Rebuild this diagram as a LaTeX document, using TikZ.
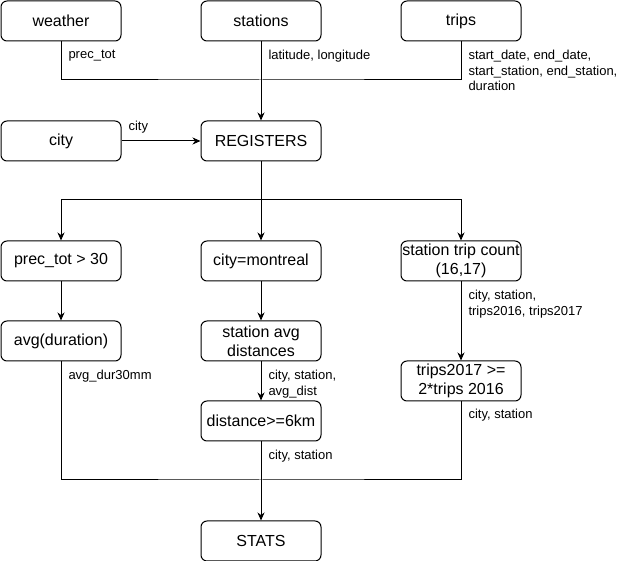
\documentclass[tikz,border=0pt]{standalone}
\usepackage{fontspec}
\setmainfont{Liberation Sans}
\usetikzlibrary{arrows.meta}
\begin{document}
\begin{tikzpicture}[x=1pt,y=-1pt,line width=1pt,
  box/.style={draw,rounded corners=6pt,minimum width=120pt,minimum height=40pt,inner sep=0pt,align=center,font=\fontsize{16}{19}\selectfont},
  lbl/.style={inner sep=0pt,anchor=north west,align=left,font=\fontsize{13}{15.5}\selectfont},
  arr/.style={-{Stealth[length=8pt,width=7pt,inset=2.5pt]}}]
\useasboundingbox (0,0) rectangle (641,561);
\node[box] (weather) at (61,21) {weather};
\node[box] (stations) at (261,21) {stations};
\node[box] (trips) at (461,21) {trips};
\node[box] (city) at (61,141) {city};
\node[box] (reg) at (261,141) {REGISTERS};
\node[box] (prec) at (61,261) {prec\_tot > 30};
\node[box] (mont) at (261,261) {city=montreal};
\node[box] (count) at (461,261) {station trip count\\(16,17)};
\node[box] (avgdur) at (61,341) {avg(duration)};
\node[box] (avgdist) at (261,341) {station avg\\distances};
\node[box] (t17) at (461,381) {trips2017 >=\\2*trips 2016};
\node[box] (dist) at (261,421) {distance>=6km};
\node[box] (stats) at (261,541) {STATS};
\coordinate (m1) at (261,80);
\coordinate (s1) at (261,200);
\coordinate (m2) at (261,480);
\draw (weather.south) |- (m1) -| (trips.south);
\draw[arr] (stations.south) -- (reg.north);
\draw[arr] (city.east) -- (reg.west);
\draw[arr] (reg.south) -- (mont.north);
\draw[arr] (s1) -| (prec.north);
\draw[arr] (s1) -| (count.north);
\draw[arr] (prec.south) -- (avgdur.north);
\draw[arr] (mont.south) -- (avgdist.north);
\draw[arr] (avgdist.south) -- (dist.north);
\draw[arr] (count.south) -- (t17.north);
\draw (avgdur.south) |- (m2) -| (t17.south);
\draw[arr] (dist.south) -- (stats.north);
\node[lbl] (l1) at (68,50) {prec\_tot};
\node[lbl] (l2) at (268,50) {latitude, longitude};
\node[lbl] (l3) at (468,50) {start\_date, end\_date,\\start\_station, end\_station,\\duration};
\node[lbl] (l4) at (128,121) {city};
\node[lbl] (l5) at (468,290) {city, station,\\trips2016, trips2017};
\node[lbl] (l6) at (68,370) {avg\_dur30mm};
\node[lbl] (l7) at (268,370) {city, station,\\avg\_dist};
\node[lbl] (l8) at (468,409) {city, station};
\node[lbl] (l9) at (268,450) {city, station};
\end{tikzpicture}
\end{document}
